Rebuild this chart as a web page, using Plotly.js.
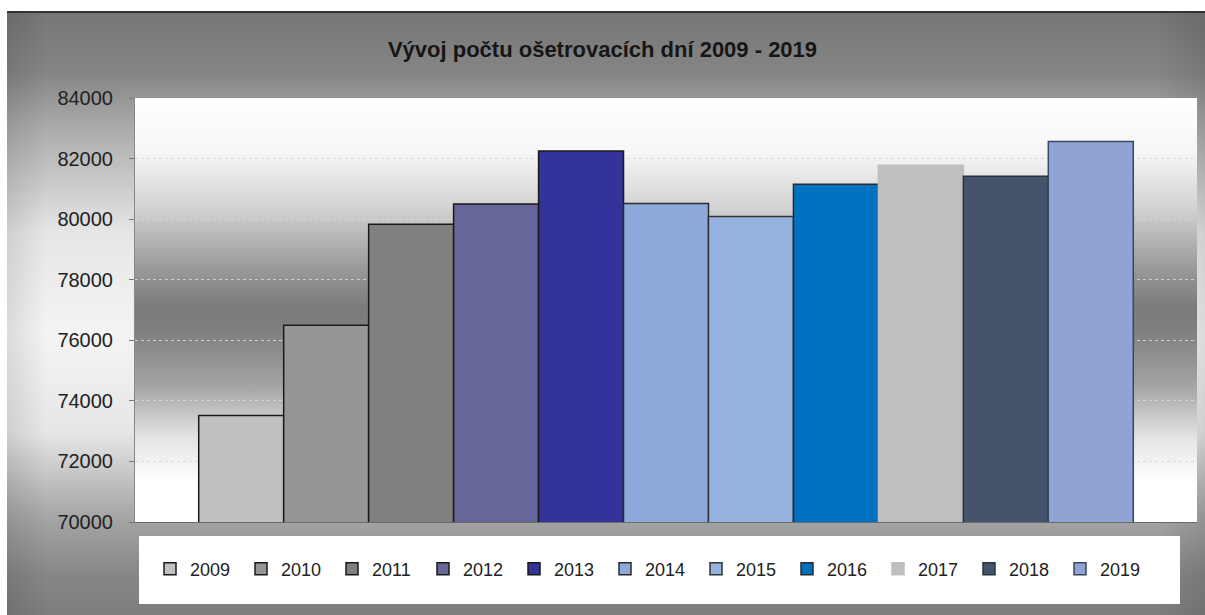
<!DOCTYPE html>
<html>
<head>
<meta charset="utf-8">
<script src="https://cdn.plot.ly/plotly-3.0.1.min.js"></script>
<style>
  body { margin: 0; background: #fff; }
  #frame {
    position: absolute; left: 7px; top: 11px; width: 1198px; height: 604px;
    border-top: 2px solid #333;
    background:
      linear-gradient(to right, rgba(0,0,0,0.10) 0px, rgba(0,0,0,0) 40px, rgba(0,0,0,0) 1150px, rgba(0,0,0,0.10) 1198px),
      linear-gradient(to bottom, #767676 0px, #858585 60px, #a8a8a8 110px, #e6e6e6 220px, #f4f4f4 320px, #e6e6e6 420px, #a8a8a8 500px, #878787 560px, #7c7c7c 604px);
  }
  #plotbg {
    position: absolute; left: 135px; top: 98px; width: 1062px; height: 424px;
    background: linear-gradient(to bottom, #ffffff 0px, #f6f6f6 55px, #d2d2d2 110px, #9a9a9a 170px, #7a7a7a 210px, #7e7e7e 230px, #a6a6a6 290px, #e4e4e4 340px, #ffffff 385px, #ffffff 424px);
  }
  #chart { position: absolute; left: 0; top: 0; width: 1205px; height: 615px; }
</style>
</head>
<body>
<div id="frame"></div>
<div id="plotbg"></div>
<div id="chart"></div>
<script>
// Ošetrovacie dni podľa rokov
const years = ['2009', '2010', '2011', '2012', '2013', '2014', '2015', '2016', '2017', '2018', '2019'];
const days = [73520, 76500, 79830, 80500, 82250, 80520, 80090, 81150, 81780, 81420, 82560];
const barColors = ['#c0c0c0', '#969696', '#808080', '#666699', '#333399', '#8eaadc', '#95b3de', '#0070c0', '#bfbfbf', '#44546a', '#8fa3d4'];
const lineColors = ['#1a1a1a', '#1a1a1a', '#1a1a1a', '#1a1a1a', '#1a1a1a', '#2b2b2b', '#333333', '#2b2b2b', '#bfbfbf', '#2a3140', '#3c4660'];

function renderChart() {
    const traces = years.map((yr, i) => ({
        x: ['all'],
        y: [days[i]],
        name: yr,
        type: 'bar',
        marker: {
            color: barColors[i],
            line: { color: lineColors[i], width: 1.5 }
        },
        hoverinfo: 'name+y'
    }));

    const layout = {
        width: 1205,
        height: 615,
        margin: { l: 135, r: 8, t: 98, b: 93 },
        paper_bgcolor: 'rgba(0,0,0,0)',
        plot_bgcolor: 'rgba(0,0,0,0)',
        font: { family: 'Liberation Sans, Arial, sans-serif', color: '#222' },
        title: {
            text: '<b>Vývoj počtu ošetrovacích dní 2009 - 2019</b>',
            font: { size: 22, color: '#161616' },
            x: 0.5, xanchor: 'center',
            y: 1 - 49 / 615, yanchor: 'middle'
        },
        barmode: 'group',
        bargap: 0.12,
        bargroupgap: 0,
        xaxis: {
            showticklabels: false,
            ticks: '',
            showgrid: false,
            zeroline: false,
            showline: true,
            linecolor: '#6a6a6a',
            linewidth: 1
        },
        yaxis: {
            range: [70000, 84000],
            dtick: 2000,
            tickformat: 'd',
            ticks: 'outside',
            ticklen: 5,
            tickcolor: '#777',
            ticklabelstandoff: 12,
            tickfont: { size: 20, color: '#222' },
            showline: true,
            linecolor: '#888',
            gridcolor: 'rgba(215,215,215,0.9)',
            griddash: 'dot',
            gridwidth: 1,
            zeroline: false
        },
        showlegend: true,
        legend: {
            orientation: 'h',
            x: (150 - 135) / 1062, xanchor: 'left',
            y: -0.111, yanchor: 'middle',
            bgcolor: 'rgba(0,0,0,0)',
            font: { size: 18, color: '#222' },
            entrywidth: 46,
            entrywidthmode: 'pixels',
            itemwidth: 30,
            traceorder: 'normal'
        },
        shapes: [{
            // white legend box
            type: 'rect', xref: 'paper', yref: 'paper',
            x0: (139 - 135) / 1062, x1: (1180 - 135) / 1062,
            y0: (522 - 604) / 424, y1: (522 - 536) / 424,
            fillcolor: '#ffffff', line: { width: 0 }, layer: 'below'
        }]
    };

    Plotly.newPlot('chart', traces, layout, { displayModeBar: false });
}

renderChart();
</script>
</body>
</html>
